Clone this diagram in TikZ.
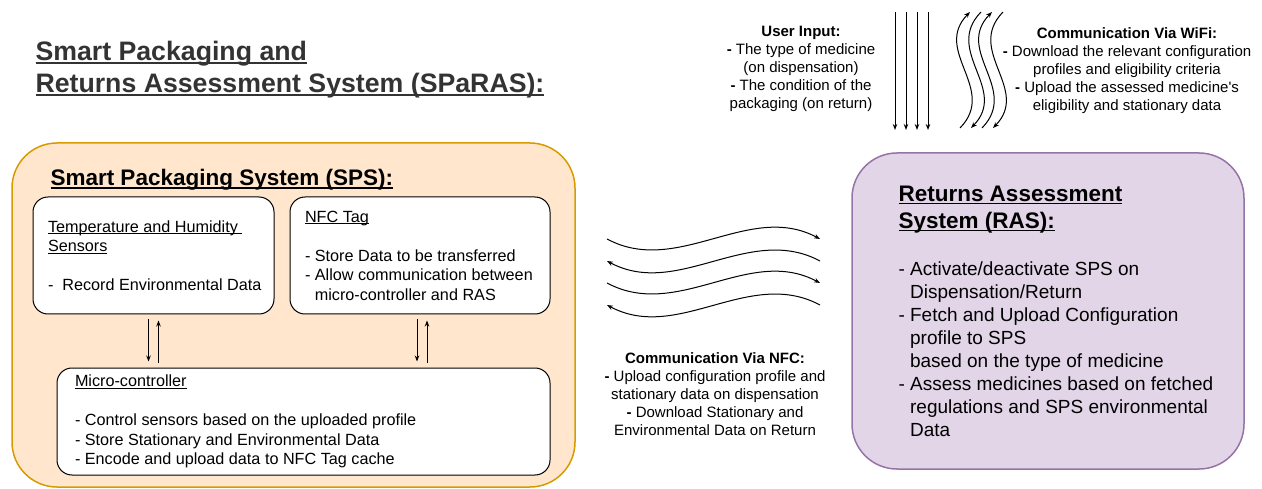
\documentclass[tikz,border=0pt]{standalone}
\usepackage{fontspec}
\setmainfont{Liberation Sans}
\usetikzlibrary{positioning,arrows.meta,calc}
\definecolor{spsfill}{HTML}{FFE6CC}
\definecolor{spsdraw}{HTML}{D79B00}
\definecolor{rasfill}{HTML}{E1D5E7}
\definecolor{rasdraw}{HTML}{9673A6}
\definecolor{titlegray}{HTML}{333333}
\newcommand{\undl}[1]{\setbox0=\hbox{#1}\rlap{\rule[-0.13em]{\wd0}{0.07em}}\box0}
\newcommand{\bdash}{\textbf{-}}
\tikzset{
  box/.style={draw,fill=white,rounded corners=15pt,line width=1pt},
  bigbox/.style={draw,rounded corners=45pt,line width=1.5pt},
  boxtxt/.style={inner sep=0pt,align=left,font=\fontsize{16.2}{19.5}\selectfont},
  commtxt/.style={inner sep=0pt,align=center,font=\fontsize{15}{18}\selectfont},
  head/.style={inner sep=0pt,align=left,font=\fontsize{22.5}{27}\bfseries\selectfont},
}

\begin{document}
\begin{tikzpicture}[x=1pt,y=-1pt,line width=1pt,>={Stealth[length=6pt,width=4.5pt]}]
  \useasboundingbox (0,0) rectangle (1262,489);

  \node[anchor=north west,inner sep=0pt,align=left,text=titlegray,
        font=\fontsize{26.7}{32}\bfseries\selectfont] (title) at (35,40.5)
    {\undl{Smart Packaging and}\\\undl{Returns Assessment System (SPaRAS):}};

  % smart packaging system
  \node[bigbox,fill=spsfill,draw=spsdraw,minimum width=563pt,minimum height=344pt] (sps) at (293.5,315) {};
  \node[head,anchor=base west] (spsT) at (50,186) {\undl{Smart Packaging System (SPS):}};

  \node[box,minimum width=241pt,minimum height=117pt] (sens) at (153.5,255.5) {};
  \node[boxtxt,right=15pt of sens.west] (sensT)
    {\undl{Temperature and Humidity\ }\\\undl{Sensors}\\[19.5pt]-\ \ Record Environmental Data};

  \node[box,minimum width=260pt,minimum height=117pt] (nfc) at (420,255.5) {};
  \node[boxtxt,right=15pt of nfc.west] (nfcT)
    {\undl{NFC Tag}\\[19.5pt]- Store Data to be transferred\\- Allow communication between\\\phantom{-} micro-controller and RAS};

  \node[box,minimum width=493pt,minimum height=107pt] (mcu) at (303.5,421.5) {};
  \node[boxtxt,right=18pt of mcu.west] (mcuT)
    {\undl{Micro-controller}\\[19.5pt]- Control sensors based on the uploaded profile\\- Store Stationary and Environmental Data\\- Encode and upload data to NFC Tag cache};

  \draw[->,shorten <=5pt,shorten >=6pt] ([xshift=-5pt]sens.south) -- ([xshift=-5pt]sens.south |- mcu.north);
  \draw[<-,shorten <=6pt,shorten >=5pt] ([xshift=5pt]sens.south) -- ([xshift=5pt]sens.south |- mcu.north);
  \draw[->,shorten <=5pt,shorten >=6pt] ([xshift=-3pt]nfc.south) -- ([xshift=-3pt]nfc.south |- mcu.north);
  \draw[<-,shorten <=6pt,shorten >=5pt] ([xshift=7pt]nfc.south) -- ([xshift=7pt]nfc.south |- mcu.north);

  % returns assessment system
  \node[bigbox,fill=rasfill,draw=rasdraw,minimum width=392pt,minimum height=316pt] (ras) at (1048,311) {};
  \node[head,anchor=north west] (rasT) at (898,185.4) {\undl{Returns Assessment}\\\undl{System\ }\undl{(RAS):}};
  \node[boxtxt,anchor=north west,font=\fontsize{19}{23}\selectfont] (rasL) at (898,261)
    {- Activate/deactivate SPS on\\\phantom{-} Dispensation/Return\\- Fetch and Upload Configuration\\\phantom{-} profile to SPS\\\phantom{-} based on the type of medicine\\- Assess medicines based on fetched\\\phantom{-} regulations and SPS environmental\\\phantom{-} Data};

  % communication
  \node[commtxt,anchor=north] (userIn) at (801,25.3)
    {\textbf{User Input:}\\\bdash{} The type of medicine\\(on dispensation)\\\bdash{} The condition of the\\packaging (on return)};
  \node[commtxt,anchor=north] (wifiT) at (1127,27.3)
    {\textbf{Communication Via WiFi:}\\\bdash{} Download the relevant configuration\\profiles and eligibility criteria\\\bdash{} Upload the assessed medicine\textquotesingle s\\eligibility and stationary data};
  \node[commtxt,anchor=north] (nfcComm) at (715,352.4)
    {\textbf{Communication Via NFC:}\\\bdash{} Upload configuration profile and\\stationary data on dispensation\\\bdash{} Download Stationary and\\Environmental Data on Return};

  \coordinate (inTop) at (895,12);
  \coordinate (wTop) at (970,12);
  \coordinate (wBot) at (960,128);
  \coordinate (nL) at (607,239);
  \coordinate (nR) at (820,239);

  \foreach \i in {0,...,3}
    \draw[->] ([xshift=\i*11pt]inTop) -- +(0,118);
  \foreach \i in {0,2}
    \draw[<-] ([xshift=\i*11pt]wTop) .. controls +(-38,39) and +(38,-39) .. ([xshift=\i*11pt]wBot);
  \foreach \i in {1,3}
    \draw[->] ([xshift=\i*11pt]wTop) .. controls +(-38,39) and +(38,-39) .. ([xshift=\i*11pt]wBot);
  \foreach \i in {0,2}
    \draw[->] ([yshift=-\i*22pt]nL) .. controls +(71,38) and +(-71,-38) .. ([yshift=-\i*22pt]nR);
  \foreach \i in {1,3}
    \draw[<-] ([yshift=-\i*22pt]nL) .. controls +(71,38) and +(-71,-38) .. ([yshift=-\i*22pt]nR);
\end{tikzpicture}
\end{document}
